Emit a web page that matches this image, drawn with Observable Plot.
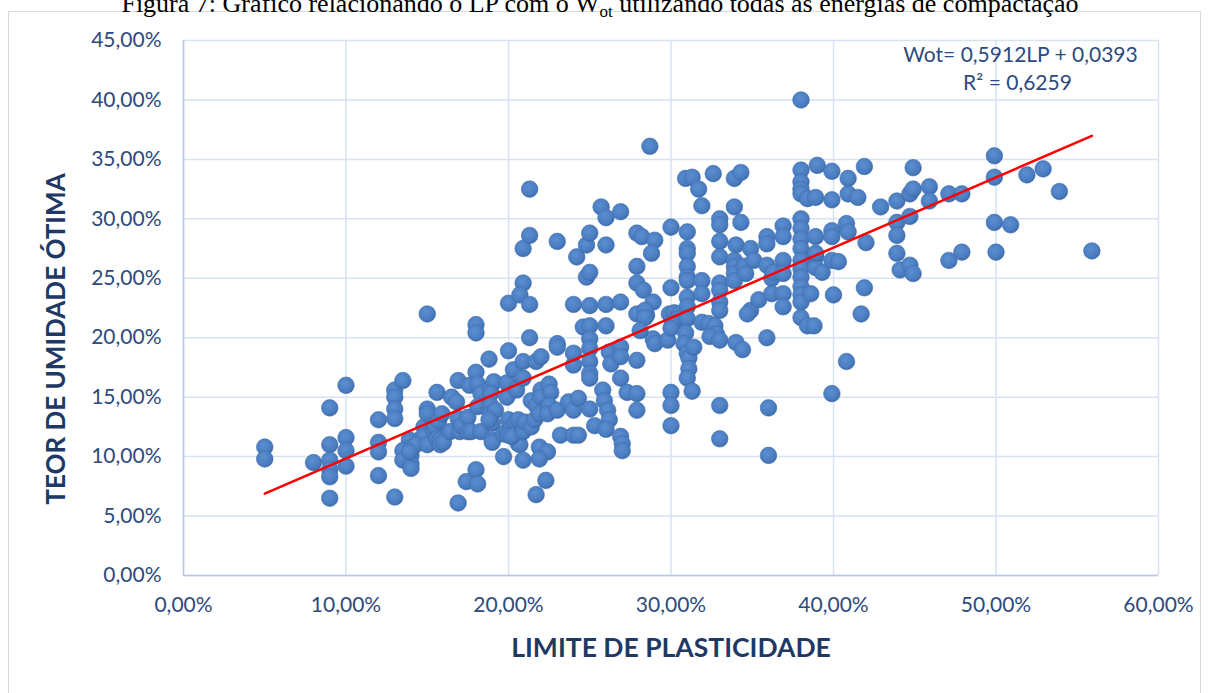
<!DOCTYPE html>
<html>
<head>
<meta charset="utf-8">
<script src="https://cdn.jsdelivr.net/npm/d3@7"></script>
<script src="https://cdn.jsdelivr.net/npm/@observablehq/plot@0.6"></script>
<style>
  html, body { margin: 0; padding: 0; background: #ffffff; }
  #wrap { position: relative; width: 1208px; height: 693px; overflow: hidden; }
  #frame { position: absolute; left: 8px; top: 11px; width: 1193px; height: 700px; border: 1px solid #D9D9D9; box-sizing: border-box; }
  #title { position: absolute; left: -4px; top: -9px; width: 1208px; text-align: center; font-family: "Liberation Serif", "Times New Roman", serif; font-size: 26px; line-height: 26px; color: #000; white-space: nowrap; }
  #title sub { font-size: 17px; vertical-align: -5px; line-height: 0; }
  #chart { position: absolute; left: 0; top: 0; }
</style>
</head>
<body>
<div id="wrap">
  <div id="frame"></div>
  <div id="title">Figura 7: Gráfico relacionando o LP com o W<sub>ot</sub> utilizando todas as energias de compactação</div>
  <div id="chart"></div>
</div>
<script>
// ---- Data (LP %, Wot %) ----
const points = [
  [5,10.8],[5,9.8],[8,9.5],[9,14.1],[9,11.0],[9,9.7],[9,8.9],[9,8.3],[9,6.5],
  [10,16.0],[10,11.6],[10,10.5],[10,9.2],
  [12,13.1],[12,11.2],[12,10.4],[12,8.4],
  [13,15.6],[13,15.0],[13,14.0],[13,13.2],[13,6.6],[13.5,16.4],
  [13.9,11.4],[13.9,10.7],[13.5,10.5],[14,10.1],[13.5,9.7],[14,9.4],[14,9.0],
  [14.6,11.5],[14.8,12.5],[14.8,11.7],[14.3,11.0],[13.9,10.4],
  [15,22.0],[15,14.0],[15,13.6],[15,11.0],[15.4,12.6],[15.4,12.2],[15.5,12.5],
  [15.6,15.4],[15.6,11.5],[15.7,13.0],[15.8,11.4],[15.8,11.0],[15.9,13.6],[16.0,11.2],
  [16.4,12.1],[16.5,15.0],[16.8,14.6],[16.9,16.4],[16.9,13.2],[16.9,6.1],[17.0,12.1],
  [17.1,12.6],[17.4,7.9],[17.6,16.0],[17.5,13.3],[17.5,12.1],[17.7,12.1],
  [18,21.1],[18,20.4],[18,17.1],[18.1,16.1],[18.3,15.3],[18.1,14.2],[18.0,8.9],[18.1,7.7],[18.3,12.1],
  [18.8,18.2],[18.8,13.9],[18.9,13.3],[19.0,12.8],[19.0,11.4],[18.9,15.7],[19.1,16.3],
  [18.9,15.3],[18.9,14.3],[18.9,13.6],[19.2,13.9],[18.8,13.1],[19.0,11.2],[19.7,10.0],
  [19.7,11.9],[19.9,12.1],[20.0,13.1],[20.2,12.5],[20.4,12.8],[20.1,15.9],[20.0,18.9],
  [20.0,22.9],[19.9,16.2],[19.9,15.0],[20.5,15.6],[20.3,17.3],[20.6,11.1],[20.6,11.7],
  [20.7,11.0],[20.0,11.8],[20.2,11.7],[20.6,13.1],[20.9,12.1],[21.0,12.9],[21.4,12.5],
  [20.9,9.7],[20.9,16.6],[20.9,18.0],[20.9,24.6],[20.7,23.6],[21.3,22.8],[20.9,27.5],
  [21.3,28.6],[21.3,32.5],[21.3,20.0],[21.4,14.7],[21.6,13.1],[21.7,14.3],[21.9,13.6],
  [21.7,18.0],[22.0,18.4],[22.0,15.6],[22.0,15.0],[21.9,10.8],[22.4,10.4],[21.9,9.8],
  [22.3,8.0],[21.7,6.8],[22.5,16.1],[22.6,15.4],[22.5,14.3],[22.4,13.6],[23.0,13.9],
  [23.0,19.5],[23.0,19.2],[23.0,28.1],[23.2,11.8],[24.0,11.8],[24.3,11.8],[23.7,14.6],
  [24.0,13.9],[24.3,14.9],[24.0,17.7],[24.0,18.7],[24.0,22.8],[24.2,26.8],[24.6,20.9],
  [25.0,21.0],[25.0,22.7],[24.8,25.1],[25.0,25.5],[24.8,27.8],[25.0,28.8],[25.0,19.9],
  [25.0,19.1],[25.0,18.0],[25.0,17.0],[25.0,16.6],[25.0,14.0],[25.3,12.6],
  [25.7,31.0],[26.0,30.1],[26.9,30.6],[26.0,27.8],[26.0,22.8],[26.0,21.0],[26.2,18.8],
  [26.3,17.8],[25.8,15.6],[25.9,14.7],[26.1,13.9],[26.2,13.1],[26.0,12.3],[26.9,23.0],
  [26.9,19.2],[26.9,18.4],[26.9,16.6],[26.9,11.7],[27.0,11.1],[27.0,10.5],[27.3,15.4],
  [27.9,28.8],[28.2,28.5],[29.0,28.2],[28.8,27.1],[27.9,26.0],[27.9,24.6],[28.3,24.0],
  [28.9,23.0],[27.9,22.0],[28.5,21.9],[28.4,22.3],[28.4,21.7],[27.9,18.1],[27.9,15.3],
  [27.9,13.9],[28.7,36.1],[28.9,19.9],[29.0,19.5],[29.8,19.8],[28.1,20.6],
  [29.9,22.0],[30.2,22.1],[30.5,22.0],[30.4,21.6],[30.1,21.2],[30.0,20.8],[30.0,24.2],
  [30.0,29.3],[30.0,15.4],[30.0,14.3],[30.0,12.6],
  [30.9,33.4],[31.3,33.5],[31.7,32.5],[31.9,31.1],[31.0,28.9],[31.0,27.5],[31.0,27.1],
  [31.0,26.0],[31.0,25.1],[31.0,24.8],[31.0,23.4],[31.0,22.6],[31.0,21.6],[30.9,20.4],
  [30.8,19.5],[31.0,18.7],[31.1,18.3],[31.1,17.4],[31.0,16.6],[31.3,15.5],[31.4,19.2],
  [31.9,24.8],[31.9,23.7],[31.9,21.3],[32.3,21.2],[32.7,21.0],[32.8,20.3],[32.4,20.1],
  [33.0,19.8],[32.6,33.8],[33.0,30.0],[33.0,29.5],[33.0,28.1],[33.0,26.8],[33.0,24.6],
  [33.0,24.0],[33.0,23.0],[33.0,22.3],[33.0,14.3],[33.0,11.5],
  [33.9,33.4],[34.3,33.9],[33.9,31.0],[34.3,29.7],[34.0,27.8],[33.9,26.5],[33.9,26.0],
  [33.9,25.4],[33.9,24.8],[34.5,26.0],[34.6,25.4],[34.0,19.6],[34.4,19.0],[34.9,27.5],
  [35.1,26.5],[34.9,22.3],[34.7,22.0],[35.4,23.2],[35.9,28.5],[35.9,27.9],[35.9,26.1],
  [36.2,25.0],[36.3,25.5],[36.2,23.7],[35.9,20.0],[36.0,14.1],[36.0,10.1],
  [36.9,29.4],[36.9,28.5],[36.9,26.5],[36.9,25.4],[36.9,23.7],[36.9,22.6],
  [38,40.0],[38,34.1],[38,33.1],[38,32.5],[38,32.1],[38,30.0],[38,29.2],[38,28.3],
  [38,27.5],[38,26.5],[38,25.8],[38,25.1],[38,24.3],[38,23.6],[38,23.0],[38,21.7],
  [38.4,31.7],[38.9,31.8],[38.4,21.0],[38.8,21.0],[38.6,23.7],[38.9,28.5],[38.9,26.8],
  [38.9,25.9],[38.9,27.1],[39.3,25.5],[39.0,34.5],[39.9,34.0],[39.9,31.6],[39.9,29.0],
  [39.9,28.5],[39.9,26.5],[40.3,26.4],[40.0,23.6],[39.9,15.3],[40.8,29.6],[40.9,28.9],
  [40.9,33.4],[40.9,32.1],[41.5,31.8],[40.8,18.0],[41.9,34.4],[42.0,28.0],[41.9,24.2],
  [41.7,22.0],[42.9,31.0],[43.9,31.5],[43.9,29.7],[43.9,28.6],[43.9,27.1],[44.1,25.7],
  [44.7,26.1],[44.9,25.4],[44.7,30.2],[44.7,32.1],[44.9,32.5],[44.9,34.3],[45.9,32.7],
  [45.9,31.5],[47.1,32.1],[47.9,32.1],[47.1,26.5],[47.9,27.2],
  [49.9,35.3],[49.9,33.5],[49.9,29.7],[50.0,27.2],[50.9,29.5],[51.9,33.7],[52.9,34.2],
  [53.9,32.3],[55.9,27.3]
];
const xTicks = [0, 10, 20, 30, 40, 50, 60];
const yTicks = [0, 5, 10, 15, 20, 25, 30, 35, 40, 45];
const slope = 0.5912;       // Wot = 0,5912 LP + 0,0393
const intercept = 3.93;     // in percent units
const eqLine1 = "Wot= 0,5912LP + 0,0393";
const eqLine2 = "R² = 0,6259";
const xTitle = "LIMITE DE PLASTICIDADE";
const yTitle = "TEOR DE UMIDADE ÓTIMA";

const fmt = d => d.toFixed(2).replace(".", ",") + "%";
const lpExtent = d3.extent(points, d => d[0]);
const trend = lpExtent.map(x => ({x, y: slope * x + intercept}));

const tickColor = "#2C4A7E";
const titleColor = "#1F3864";
const gridColor = "#D9E2F3";
const axisColor = "#B4C7E7";

const chart = Plot.plot({
  width: 1208,
  height: 693,
  marginLeft: 183,
  marginRight: 50,
  marginTop: 40,
  marginBottom: 118,
  x: {domain: [0, 60]},
  y: {domain: [0, 45]},
  style: {fontFamily: "Lato, 'Open Sans', sans-serif", background: "transparent", overflow: "visible"},
  marks: [
    Plot.gridX(xTicks, {stroke: gridColor, strokeOpacity: 1, strokeWidth: 1.5}),
    Plot.gridY(yTicks, {stroke: gridColor, strokeOpacity: 1, strokeWidth: 1.5}),
    Plot.ruleX([0], {stroke: axisColor, strokeWidth: 1.5}),
    Plot.ruleY([0], {stroke: axisColor, strokeWidth: 1.5}),
    Plot.axisX(xTicks, {tickSize: 0, tickPadding: 22, tickFormat: fmt, fontSize: 21, fill: tickColor, label: null}),
    Plot.axisY(yTicks, {tickSize: 0, tickPadding: 22, tickFormat: fmt, fontSize: 21, fill: tickColor, label: null}),
    Plot.dot(points, {x: d => d[0], y: d => d[1], r: 8.3, fill: "url(#dotgrad)", stroke: "#3F6DAC", strokeWidth: 0.6}),
    Plot.line(trend, {x: "x", y: "y", stroke: "#FF0000", strokeWidth: 2.5}),
    Plot.text([eqLine1], {text: d => d, frameAnchor: "top-right", dx: -138, dy: 15, lineAnchor: "middle", textAnchor: "middle", fontSize: 21, fill: tickColor}),
    Plot.text([eqLine2], {text: d => d, frameAnchor: "top-right", dx: -141, dy: 43, lineAnchor: "middle", textAnchor: "middle", fontSize: 21, fill: tickColor}),
    Plot.text([xTitle], {text: d => d, frameAnchor: "bottom", dy: 73, lineAnchor: "middle", textAnchor: "middle", fontSize: 26.5, fontWeight: "bold", fill: titleColor}),
    Plot.text([yTitle], {text: d => d, frameAnchor: "left", dx: -127, dy: 31, rotate: -90, lineAnchor: "middle", textAnchor: "middle", fontSize: 26, fontWeight: "bold", fill: titleColor})
  ]
});

const svg = d3.select(chart);
const defs = svg.insert("defs", ":first-child");
const grad = defs.append("radialGradient").attr("id", "dotgrad").attr("cx", "42%").attr("cy", "38%").attr("r", "62%");
grad.append("stop").attr("offset", "0%").attr("stop-color", "#5C8ED2");
grad.append("stop").attr("offset", "75%").attr("stop-color", "#4A7DC0");
grad.append("stop").attr("offset", "100%").attr("stop-color", "#3E6BAA");

document.getElementById("chart").appendChild(chart);
</script>
</body>
</html>
